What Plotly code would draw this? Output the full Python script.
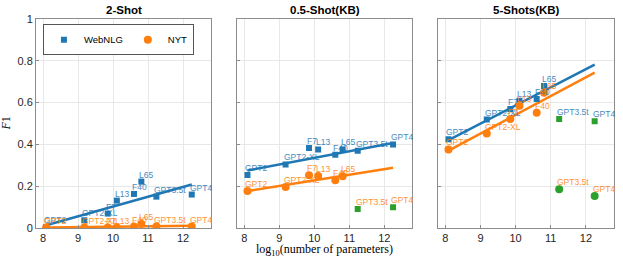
import plotly.graph_objects as go

# ---------------- data ----------------
models = ["GPT2", "GPT2-XL", "F7", "L13", "F40", "L65", "GPT3.5t", "GPT4"]
log_params = [8.09, 9.18, 9.85, 10.11, 10.60, 10.81, 11.24, 12.25]

panel_titles = ["2-Shot", "0.5-Shot(KB)", "5-Shots(KB)"]

webnlg_2shot = [0.005, 0.037, 0.069, 0.131, 0.163, 0.222, 0.150, 0.160]
nyt_2shot = [0.002, 0.002, 0.002, 0.002, 0.007, 0.019, 0.007, 0.007]

webnlg_05shot = [0.253, 0.304, 0.383, 0.376, 0.350, 0.376, 0.370, 0.400]
nyt_05shot = [0.177, 0.196, 0.252, 0.249, 0.229, 0.248, 0.091, 0.099]

webnlg_5shot = [0.425, 0.519, 0.569, 0.609, 0.617, 0.680, 0.521, 0.511]
nyt_5shot = [0.376, 0.452, 0.522, 0.585, 0.551, 0.647, 0.185, 0.153]

# fitted trend lines (end points)
fit_x = [8.09, 12.25]
webnlg_fit = [[0.013, 0.208], [0.275, 0.407], [0.420, 0.782]]
nyt_fit = [[0.002, 0.011], [0.177, 0.288], [0.370, 0.743]]

x_ticks = [8, 9, 10, 11, 12]
y_ticks = [0, 0.2, 0.4, 0.6, 0.8, 1]
y_tick_text = ["0", "0.2", "0.4", "0.6", "0.8", "1"]

# ---------------- style ----------------
BLUE = "#1f77b4"
ORANGE = "#ff7f0e"
GREEN = "#2ca02c"
AXIS = "#8c8c8c"
GRID = "#e8e8e8"
TICKC = "#262626"

webnlg_sets = [webnlg_2shot, webnlg_05shot, webnlg_5shot]
nyt_sets = [nyt_2shot, nyt_05shot, nyt_5shot]
# which points are drawn green (GPT models separated from trend) per panel
webnlg_green = [[], [], [6, 7]]
nyt_green = [[], [6, 7], [6, 7]]
nyt_green_symbol = ["circle", "square", "circle"]

L, R, T, B = 36, 9, 19, 33
W, H = 623, 261
pw = W - L - R
panel_px = [(36, 211), (237.3, 412.3), (438.3, 614)]
domains = [((a - L) / pw, min(1.0, (b - L) / pw)) for a, b in panel_px]

fig = go.Figure()
annotations = []

for p in range(3):
    xa = "x" if p == 0 else f"x{p+1}"
    ya = "y" if p == 0 else f"y{p+1}"
    wy = webnlg_sets[p]
    ny = nyt_sets[p]

    # trend lines
    fig.add_trace(go.Scatter(x=fit_x, y=webnlg_fit[p], mode="lines",
                             line=dict(color=BLUE, width=2.5), xaxis=xa, yaxis=ya,
                             showlegend=False, hoverinfo="skip"))
    fig.add_trace(go.Scatter(x=fit_x, y=nyt_fit[p], mode="lines",
                             line=dict(color=ORANGE, width=2.5), xaxis=xa, yaxis=ya,
                             showlegend=False, hoverinfo="skip"))

    w_idx = [i for i in range(8) if i not in webnlg_green[p]]
    n_idx = [i for i in range(8) if i not in nyt_green[p]]

    fig.add_trace(go.Scatter(x=[log_params[i] for i in w_idx], y=[wy[i] for i in w_idx],
                             mode="markers", marker=dict(symbol="square", size=6, color=BLUE),
                             name="WebNLG", showlegend=(p == 0), xaxis=xa, yaxis=ya))
    fig.add_trace(go.Scatter(x=[log_params[i] for i in n_idx], y=[ny[i] for i in n_idx],
                             mode="markers", marker=dict(symbol="circle", size=8, color=ORANGE),
                             name="NYT", showlegend=(p == 0), xaxis=xa, yaxis=ya))
    if webnlg_green[p]:
        fig.add_trace(go.Scatter(x=[log_params[i] for i in webnlg_green[p]],
                                 y=[wy[i] for i in webnlg_green[p]], mode="markers",
                                 marker=dict(symbol="square", size=6, color=GREEN),
                                 showlegend=False, xaxis=xa, yaxis=ya))
    if nyt_green[p]:
        sym = nyt_green_symbol[p]
        fig.add_trace(go.Scatter(x=[log_params[i] for i in nyt_green[p]],
                                 y=[ny[i] for i in nyt_green[p]], mode="markers",
                                 marker=dict(symbol=sym, size=8 if sym == "circle" else 6, color=GREEN),
                                 showlegend=False, xaxis=xa, yaxis=ya))

    # point labels
    for vals, col in ((wy, BLUE), (ny, ORANGE)):
        for i, m in enumerate(models):
            annotations.append(dict(x=log_params[i], y=vals[i], xref=xa, yref=ya,
                                    text=m, showarrow=False, xanchor="left", yanchor="middle",
                                    xshift=-4, yshift=7,
                                    font=dict(family="Liberation Sans, Arial", size=8.5, color=col),
                                    opacity=0.85))

    # panel title
    d0, d1 = domains[p]
    annotations.append(dict(x=(d0 + d1) / 2, y=1, xref="paper", yref="paper",
                            text=f"<b>{panel_titles[p]}</b>", showarrow=False,
                            xanchor="center", yanchor="bottom", yshift=1,
                            font=dict(family="Liberation Sans, Arial", size=11.5, color="#000")))

    axis_common = dict(showline=True, linecolor=AXIS, linewidth=1, mirror=True,
                       showgrid=True, gridcolor=GRID, gridwidth=1, zeroline=False,
                       ticks="inside", ticklen=3, tickcolor=AXIS, automargin=False)
    fig.layout[("xaxis" if p == 0 else f"xaxis{p+1}")] = dict(
        domain=[d0, d1], range=[7.8, 12.8], tickvals=x_ticks, anchor=ya,
        tickfont=dict(family="Liberation Sans, Arial", size=11, color=TICKC), **axis_common)
    fig.layout[("yaxis" if p == 0 else f"yaxis{p+1}")] = dict(
        domain=[0, 1], range=[0, 1], tickvals=y_ticks, ticktext=y_tick_text, anchor=xa,
        showticklabels=(p == 0),
        tickfont=dict(family="Liberation Sans, Arial", size=11, color=TICKC), **axis_common)

# axis titles
annotations.append(dict(x=(domains[1][0] + domains[1][1]) / 2, y=0, xref="paper", yref="paper",
                        text="log<sub>10</sub>(number of parameters)", showarrow=False,
                        xanchor="center", yanchor="top", yshift=-12,
                        font=dict(family="Liberation Serif, DejaVu Serif", size=12, color="#000")))
annotations.append(dict(x=0, y=0.5, xref="paper", yref="paper",
                        text="<i>F</i>1", showarrow=False, textangle=-90,
                        xanchor="center", yanchor="middle", xshift=-31,
                        font=dict(family="Liberation Serif, DejaVu Serif", size=12, color="#000")))

fig.update_layout(
    template="none",
    width=W, height=H, margin=dict(l=L, r=R, t=T, b=B, pad=0, autoexpand=False),
    paper_bgcolor="white", plot_bgcolor="white",
    annotations=annotations,
    legend=dict(orientation="h", x=0.012, y=0.975, xanchor="left", yanchor="top",
                bgcolor="white", bordercolor="#555", borderwidth=1,
                font=dict(family="Liberation Sans, Arial", size=9.5, color="#000"),
                tracegroupgap=0, itemsizing="trace"),
)

fig.write_html("out.html",
               config={"displayModeBar": False},
               post_script="document.body.style.margin='0';document.body.style.padding='0';")
